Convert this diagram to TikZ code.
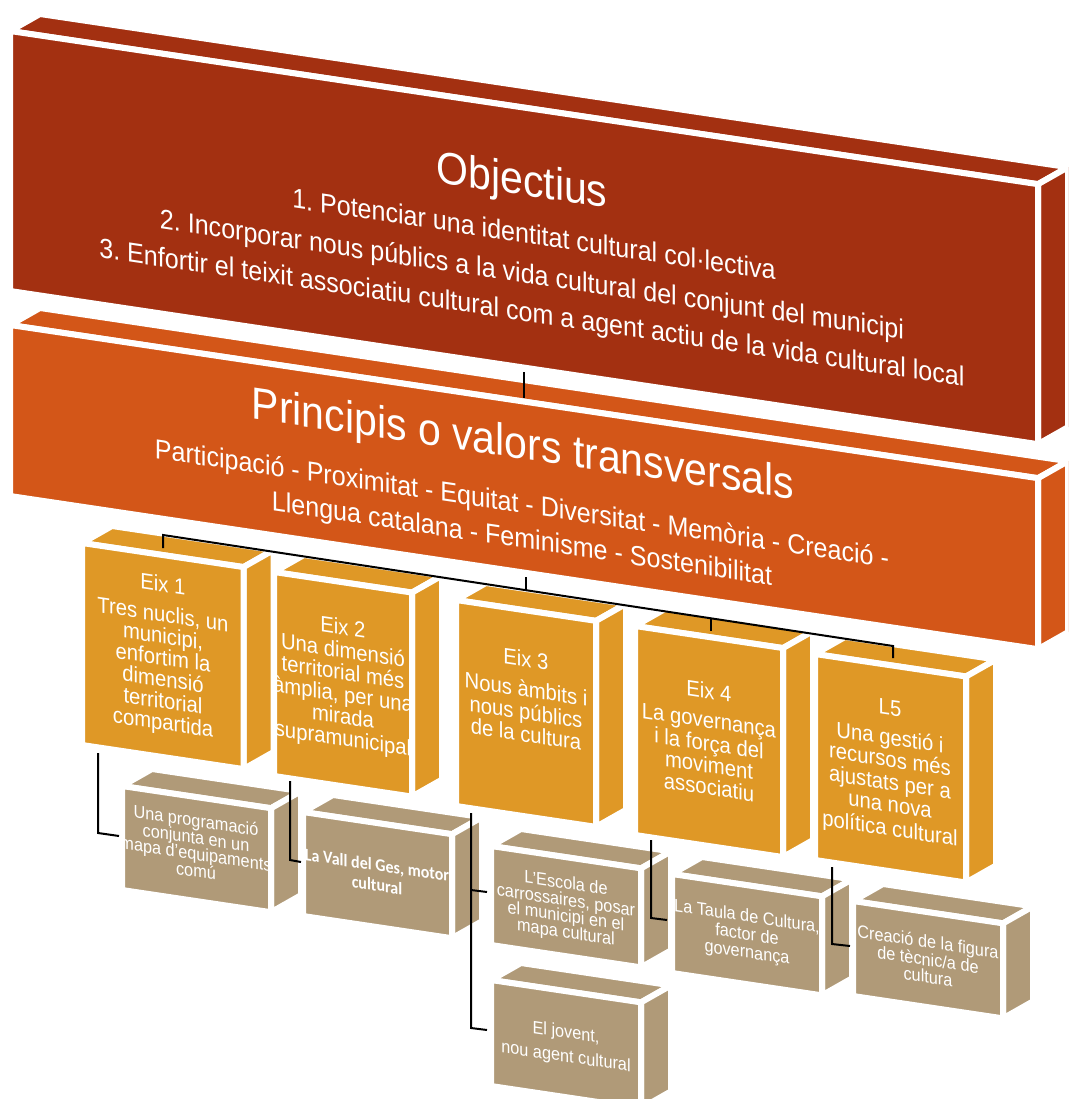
\documentclass[tikz,border=0pt]{standalone}
\usepackage{fontspec}
\setmainfont{Liberation Sans}
\newfontfamily\carlito{Carlito}
\usetikzlibrary{calc}
\frenchspacing
\definecolor{objcol}{RGB}{163,48,17}
\definecolor{princol}{RGB}{211,86,24}
\definecolor{eixcol}{RGB}{223,152,38}
\definecolor{subcol}{RGB}{176,154,120}
\newcommand{\ftitle}{\fontsize{30.75}{36}\selectfont}
\newcommand{\flist}{\fontsize{18.8}{22}\selectfont}
\newcommand{\feix}{\fontsize{15.2}{18}\selectfont}
\newcommand{\fsub}{\fontsize{12.2}{14}\selectfont}
\newcommand{\fsubb}{\carlito\bfseries\fontsize{12}{14}\selectfont}
% #1 name, #2 colour, #3 x left, #4 x right, #5 y top at left, #6 y bottom at left
\newcommand{\drawcube}[6]{%
  \pgfmathsetmacro\cubeya{#5+0.149*(#4-#3)}%
  \pgfmathsetmacro\cubeyb{#6+0.149*(#4-#3)}%
  \coordinate (#1-tl) at (#3,#5);
  \coordinate (#1-tr) at (#4,\cubeya);
  \coordinate (#1-br) at (#4,\cubeyb);
  \coordinate (#1-bl) at (#3,#6);
  \path[face,fill=#2] (#1-tl) -- (#1-tr) -- ++(30,-17) -- ($(#1-tl)+(30,-17)$) -- cycle;
  \path[face,fill=#2] (#1-tr) -- ++(30,-17) -- ($(#1-br)+(30,-17)$) -- (#1-br) -- cycle;
  \path[face,fill=#2] (#1-tl) -- (#1-tr) -- (#1-br) -- (#1-bl) -- cycle;
}
% #1 name, #2 font, #3 x, #4 baseline y, #5 text
\newcommand{\tline}[5]{\node[stxt,font=#2] (#1) at (#3,#4) {#5};}
\begin{document}
\begin{tikzpicture}[x=0.75pt,y=-0.75pt,
  face/.style={draw=white,line width=4.5pt,line join=round},
  stxt/.style={text=white,inner sep=0pt,anchor=base,yslant=-0.149,yscale=1.1},
  conn/.style={draw=black,line width=1.5pt}]
\useasboundingbox (0,0) rectangle (1068,1099);
\clip (0,0) rectangle (1068,1099);
% boxes
\drawcube{obj}{objcol}{10}{1038}{31}{291}
\drawcube{pri}{princol}{10}{1038}{325}{496}
\drawcube{e1}{eixcol}{82}{243.5}{543}{745}
\drawcube{e2}{eixcol}{274}{412}{572}{776}
\drawcube{e3}{eixcol}{456}{596}{600}{806}
\drawcube{e4}{eixcol}{635}{783}{626}{835}
\drawcube{e5}{eixcol}{815}{966}{654}{860}
\drawcube{s1}{subcol}{122}{271}{786}{890}
\drawcube{s2}{subcol}{303}{452}{812}{916}
\drawcube{s3}{subcol}{491}{641}{846}{945}
\drawcube{s4}{subcol}{491}{641}{980}{1086}
\drawcube{s5}{subcol}{672}{822}{874}{973}
\drawcube{s6}{subcol}{853}{1003}{901}{996}
% Objectius
\tline{objt}{\ftitle}{522}{195}{Objectius}
\tline{obj1}{\flist}{534}{244}{1. Potenciar una identitat cultural col·lectiva}
\tline{obj2}{\flist}{532}{284}{2. Incorporar nous públics a la vida cultural del conjunt del municipi}
\tline{obj3}{\flist}{532}{322}{3. Enfortir el teixit associatiu cultural com a agent actiu de la vida cultural local}
% Principis
\tline{prit}{\ftitle}{523}{459}{Principis o valors transversals}
\tline{pri1}{\flist}{522}{513}{Participació - Proximitat - Equitat - Diversitat - Memòria - Creació -}
\tline{pri2}{\flist}{522}{548}{Llengua catalana - Feminisme - Sostenibilitat}
% Eix 1
\tline{e1a}{\feix}{163}{592}{Eix 1}
\tline{e1b}{\feix}{163}{622}{Tres nuclis, un}
\tline{e1c}{\feix}{163}{643.6}{municipi,}
\tline{e1d}{\feix}{163}{665.2}{enfortim la}
\tline{e1e}{\feix}{163}{686.8}{dimensió}
\tline{e1f}{\feix}{163}{708.4}{territorial}
\tline{e1g}{\feix}{163}{730}{compartida}
% Eix 2
\tline{e2a}{\feix}{343}{635}{Eix 2}
\tline{e2b}{\feix}{343}{658}{Una dimensió}
\tline{e2c}{\feix}{343}{680}{territorial més}
\tline{e2d}{\feix}{343}{702}{àmplia, per una}
\tline{e2e}{\feix}{343}{724}{mirada}
\tline{e2f}{\feix}{343}{746}{supramunicipal}
% Eix 3
\tline{e3a}{\feix}{526}{667}{Eix 3}
\tline{e3b}{\feix}{526}{697}{Nous àmbits i}
\tline{e3c}{\feix}{526}{720}{nous públics}
\tline{e3d}{\feix}{526}{742}{de la cultura}
% Eix 4
\tline{e4a}{\feix}{709}{699}{Eix 4}
\tline{e4b}{\feix}{709}{728}{La governança}
\tline{e4c}{\feix}{709}{751}{i la força del}
\tline{e4d}{\feix}{709}{773}{moviment}
\tline{e4e}{\feix}{709}{795}{associatiu}
% L5
\tline{e5a}{\feix}{890}{715}{L5}
\tline{e5b}{\feix}{890}{745}{Una gestió i}
\tline{e5c}{\feix}{890}{767}{recursos més}
\tline{e5d}{\feix}{890}{790}{ajustats per a}
\tline{e5e}{\feix}{890}{812}{una nova}
\tline{e5f}{\feix}{890}{836}{política cultural}
% sub boxes
\tline{s1a}{\fsub}{196}{827}{Una programació}
\tline{s1b}{\fsub}{196}{844}{conjunta en un}
\tline{s1c}{\fsub}{196}{860}{mapa d’equipaments}
\tline{s1d}{\fsub}{196}{877}{comú}
\tline{s2a}{\fsubb}{377}{871}{La Vall del Ges, motor}
\tline{s2b}{\fsubb}{377}{891}{cultural}
\tline{s3a}{\fsub}{566}{889}{L’Escola de}
\tline{s3b}{\fsub}{566}{906}{carrossaires, posar}
\tline{s3c}{\fsub}{566}{922}{el municipi en el}
\tline{s3d}{\fsub}{566}{938}{mapa cultural}
\tline{s4a}{\fsub}{566}{1038}{El jovent,}
\tline{s4b}{\fsub}{566}{1062}{nou agent cultural}
\tline{s5a}{\fsub}{747}{922}{La Taula de Cultura,}
\tline{s5b}{\fsub}{747}{940}{factor de}
\tline{s5c}{\fsub}{747}{958}{governança}
\tline{s6a}{\fsub}{928}{948}{Creació de la figura}
\tline{s6b}{\fsub}{928}{966}{de tècnic/a de}
\tline{s6c}{\fsub}{928}{983}{cultura}
% connectors
\coordinate (k0a) at (524,372); \coordinate (k0b) at (524,398);
\draw[conn] (k0a) -- (k0b);
\coordinate (bus1) at (163,535); \coordinate (bus5) at (893,646);
\coordinate (d1) at (163,548); \coordinate (d5) at (893,658);
\draw[conn] (d1) -- (bus1) -- (bus5) -- (d5);
\coordinate (k3a) at (526,577); \coordinate (k3b) at (526,590);
\draw[conn] (k3a) -- (k3b);
\coordinate (k4a) at (711,618.5); \coordinate (k4b) at (711,631);
\draw[conn] (k4a) -- (k4b);
\coordinate (a1) at (98,753); \coordinate (a1c) at (98,833); \coordinate (a1e) at (119,836);
\draw[conn] (a1) -- (a1c) -- (a1e);
\coordinate (a2) at (290,781); \coordinate (a2c) at (290,860); \coordinate (a2e) at (301,862);
\draw[conn] (a2) -- (a2c) -- (a2e);
\coordinate (a3) at (471,813); \coordinate (a3c) at (471,890); \coordinate (a3e) at (487,892);
\coordinate (a4c) at (471,1028); \coordinate (a4e) at (487,1030);
\draw[conn] (a3) -- (a4c) -- (a4e);
\draw[conn] (a3c) -- (a3e);
\coordinate (a5) at (651,840); \coordinate (a5c) at (651,918); \coordinate (a5e) at (667,920);
\draw[conn] (a5) -- (a5c) -- (a5e);
\coordinate (a6) at (832,867); \coordinate (a6c) at (832,944); \coordinate (a6e) at (850,946);
\draw[conn] (a6) -- (a6c) -- (a6e);
\end{tikzpicture}
\end{document}
